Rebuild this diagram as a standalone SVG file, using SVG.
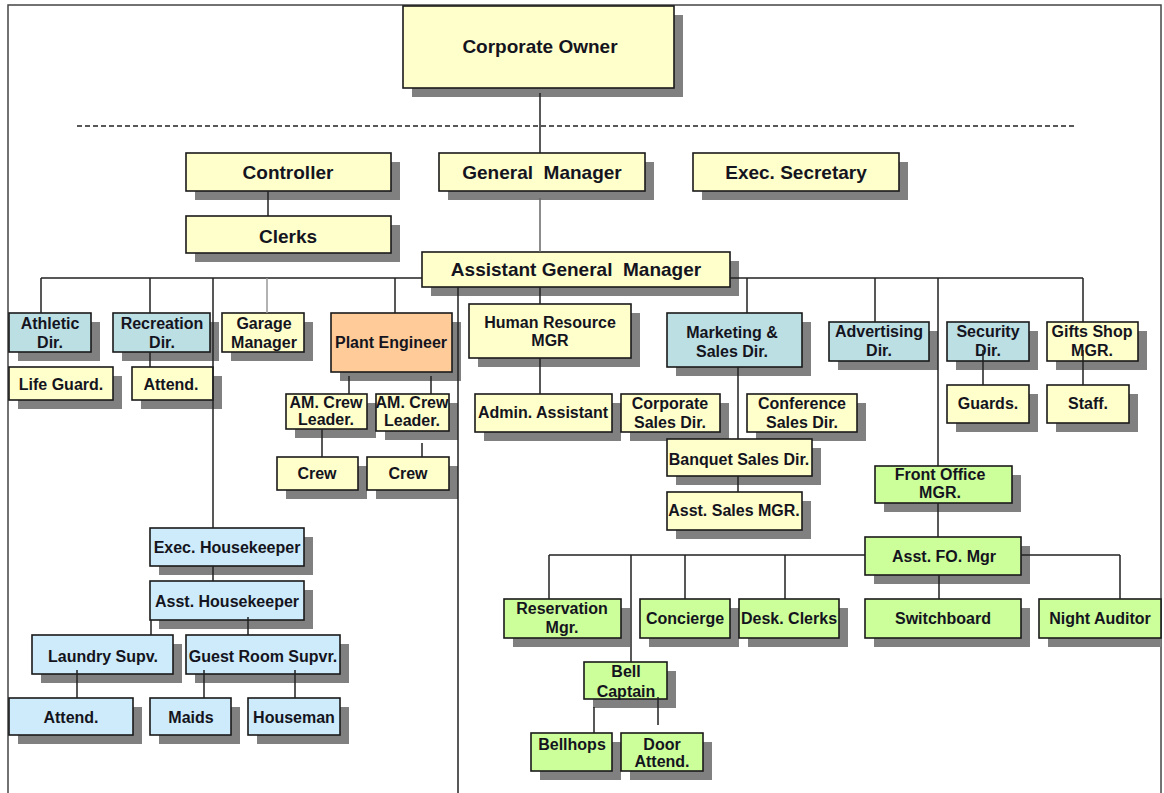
<svg xmlns="http://www.w3.org/2000/svg" width="1164" height="793" viewBox="0 0 1164 793">
<style>
.sh{fill:#808080}
.b{stroke:#1a1a1a;stroke-width:1.6}
.y{fill:#FFFFCC}
.c{fill:#BCDFE4}
.l{fill:#CDEBFA}
.o{fill:#FFCC99}
.g{fill:#CCFF99}
text{font-family:"Liberation Sans",Arial,sans-serif;font-weight:bold;fill:#141420;text-anchor:middle}
.t1{font-size:19px}
.t2{font-size:16px}
.cn path{stroke:#222;stroke-width:1.5;fill:none}
</style>
<rect x="8" y="5" width="1153" height="800" fill="#fff" stroke="#444" stroke-width="1.5"/>

<g id="corporate-owner"><rect class="sh" x="412" y="15" width="271" height="82"/><rect class="b y" x="403" y="6" width="271" height="82"/><text class="t1" x="540" y="53">Corporate Owner</text></g>
<g id="controller"><rect class="sh" x="195" y="162" width="205" height="38"/><rect class="b y" x="186" y="153" width="205" height="38"/><text class="t1" x="288" y="179">Controller</text></g>
<g id="general-manager"><rect class="sh" x="448" y="162" width="206" height="38"/><rect class="b y" x="439" y="153" width="206" height="38"/><text class="t1" x="542" y="179" xml:space="preserve">General  Manager</text></g>
<g id="exec-secretary"><rect class="sh" x="702" y="162" width="206" height="38"/><rect class="b y" x="693" y="153" width="206" height="38"/><text class="t1" x="796" y="179">Exec. Secretary</text></g>
<g id="clerks"><rect class="sh" x="195" y="225" width="205" height="37"/><rect class="b y" x="186" y="216" width="205" height="37"/><text class="t1" x="288" y="243">Clerks</text></g>
<g id="assistant-general-manager"><rect class="sh" x="431" y="261" width="308" height="35"/><rect class="b y" x="422" y="252" width="308" height="35"/><text class="t1" x="576" y="276" xml:space="preserve">Assistant General  Manager</text></g>

<g id="athletic-dir"><rect class="sh" x="18" y="322" width="82" height="39"/><rect class="b c" x="9" y="313" width="82" height="39"/><text class="t2" x="50" y="329">Athletic</text><text class="t2" x="50" y="348">Dir.</text></g>
<g id="recreation-dir"><rect class="sh" x="122" y="322" width="97" height="39"/><rect class="b c" x="113" y="313" width="97" height="39"/><text class="t2" x="162" y="329">Recreation</text><text class="t2" x="162" y="348">Dir.</text></g>
<g id="life-guard"><rect class="sh" x="18" y="376" width="104" height="33"/><rect class="b y" x="9" y="367" width="104" height="33"/><text class="t2" x="61" y="390">Life Guard.</text></g>
<g id="rec-attend"><rect class="sh" x="141" y="376" width="81" height="33"/><rect class="b y" x="132" y="367" width="81" height="33"/><text class="t2" x="171" y="390">Attend.</text></g>
<g id="garage-manager"><rect class="sh" x="231" y="322" width="82" height="39"/><rect class="b y" x="222" y="313" width="82" height="39"/><text class="t2" x="264" y="329">Garage</text><text class="t2" x="264" y="348">Manager</text></g>
<g id="plant-engineer"><rect class="sh" x="340" y="322" width="121" height="59"/><rect class="b o" x="331" y="313" width="121" height="59"/><text class="t2" x="391" y="348">Plant Engineer</text></g>
<g id="crew-leader-1"><rect class="sh" x="295" y="403" width="81" height="35"/><rect class="b y" x="286" y="394" width="81" height="35"/><text class="t2" x="326" y="408">AM. Crew</text><text class="t2" x="326" y="425">Leader.</text></g>
<g id="crew-leader-2"><rect class="sh" x="385" y="403" width="73" height="37"/><rect class="b y" x="376" y="394" width="73" height="37"/><text class="t2" x="412" y="408">AM. Crew</text><text class="t2" x="412" y="426">Leader.</text></g>
<g id="crew-1"><rect class="sh" x="286" y="466" width="81" height="33"/><rect class="b y" x="277" y="457" width="81" height="33"/><text class="t2" x="317" y="479">Crew</text></g>
<g id="crew-2"><rect class="sh" x="376" y="466" width="82" height="33"/><rect class="b y" x="367" y="457" width="82" height="33"/><text class="t2" x="408" y="479">Crew</text></g>

<g id="human-resource-mgr"><rect class="sh" x="478" y="313" width="162" height="54"/><rect class="b y" x="469" y="304" width="162" height="54"/><text class="t2" x="550" y="328">Human Resource</text><text class="t2" x="550" y="346">MGR</text></g>
<g id="admin-assistant"><rect class="sh" x="484" y="403" width="137" height="38"/><rect class="b y" x="475" y="394" width="137" height="38"/><text class="t2" x="543" y="418">Admin. Assistant</text></g>
<g id="corporate-sales-dir"><rect class="sh" x="630" y="403" width="99" height="38"/><rect class="b y" x="621" y="394" width="99" height="38"/><text class="t2" x="670" y="409">Corporate</text><text class="t2" x="670" y="428">Sales Dir.</text></g>
<g id="marketing-sales-dir"><rect class="sh" x="676" y="322" width="135" height="54"/><rect class="b c" x="667" y="313" width="135" height="54"/><text class="t2" x="732" y="338">Marketing &amp;</text><text class="t2" x="732" y="357">Sales Dir.</text></g>
<g id="conference-sales-dir"><rect class="sh" x="756" y="403" width="110" height="38"/><rect class="b y" x="747" y="394" width="110" height="38"/><text class="t2" x="802" y="409">Conference</text><text class="t2" x="802" y="428">Sales Dir.</text></g>
<g id="banquet-sales-dir"><rect class="sh" x="676" y="448" width="145" height="37"/><rect class="b y" x="667" y="439" width="145" height="37"/><text class="t2" x="739" y="465">Banquet Sales Dir.</text></g>
<g id="asst-sales-mgr"><rect class="sh" x="676" y="501" width="135" height="38"/><rect class="b y" x="667" y="492" width="135" height="38"/><text class="t2" x="734" y="516">Asst. Sales MGR.</text></g>

<g id="advertising-dir"><rect class="sh" x="838" y="331" width="100" height="39"/><rect class="b c" x="829" y="322" width="100" height="39"/><text class="t2" x="879" y="337">Advertising</text><text class="t2" x="879" y="356">Dir.</text></g>
<g id="security-dir"><rect class="sh" x="956" y="331" width="82" height="39"/><rect class="b c" x="947" y="322" width="82" height="39"/><text class="t2" x="988" y="337">Security</text><text class="t2" x="988" y="356">Dir.</text></g>
<g id="guards"><rect class="sh" x="956" y="394" width="82" height="38"/><rect class="b y" x="947" y="385" width="82" height="38"/><text class="t2" x="988" y="409">Guards.</text></g>
<g id="gifts-shop-mgr"><rect class="sh" x="1056" y="331" width="91" height="39"/><rect class="b y" x="1047" y="322" width="91" height="39"/><text class="t2" x="1092" y="337">Gifts Shop</text><text class="t2" x="1092" y="356">MGR.</text></g>
<g id="staff"><rect class="sh" x="1056" y="394" width="82" height="38"/><rect class="b y" x="1047" y="385" width="82" height="38"/><text class="t2" x="1088" y="409">Staff.</text></g>

<g id="front-office-mgr"><rect class="sh" x="884" y="475" width="137" height="37"/><rect class="b g" x="875" y="466" width="137" height="37"/><text class="t2" x="940" y="480">Front Office</text><text class="t2" x="940" y="498">MGR.</text></g>
<g id="asst-fo-mgr"><rect class="sh" x="874" y="546" width="156" height="38"/><rect class="b g" x="865" y="537" width="156" height="38"/><text class="t2" x="944" y="562">Asst. FO. Mgr</text></g>
<g id="reservation-mgr"><rect class="sh" x="513" y="608" width="117" height="39"/><rect class="b g" x="504" y="599" width="117" height="39"/><text class="t2" x="562" y="614">Reservation</text><text class="t2" x="562" y="633">Mgr.</text></g>
<g id="concierge"><rect class="sh" x="649" y="608" width="90" height="39"/><rect class="b g" x="640" y="599" width="90" height="39"/><text class="t2" x="685" y="624">Concierge</text></g>
<g id="desk-clerks"><rect class="sh" x="748" y="608" width="100" height="39"/><rect class="b g" x="739" y="599" width="100" height="39"/><text class="t2" x="789" y="624">Desk. Clerks</text></g>
<g id="switchboard"><rect class="sh" x="874" y="608" width="156" height="39"/><rect class="b g" x="865" y="599" width="156" height="39"/><text class="t2" x="943" y="624">Switchboard</text></g>
<g id="night-auditor"><rect class="sh" x="1048" y="608" width="113" height="39"/><rect class="b g" x="1039" y="599" width="122" height="39"/><text class="t2" x="1100" y="624">Night Auditor</text></g>
<g id="bell-captain"><rect class="sh" x="593" y="671" width="83" height="37"/><rect class="b g" x="584" y="662" width="83" height="37"/><text class="t2" x="626" y="677">Bell</text><text class="t2" x="626" y="697">Captain</text></g>
<g id="bellhops"><rect class="sh" x="540" y="742" width="81" height="38"/><rect class="b g" x="531" y="733" width="81" height="38"/><text class="t2" x="572" y="750">Bellhops</text></g>
<g id="door-attend"><rect class="sh" x="630" y="742" width="82" height="38"/><rect class="b g" x="621" y="733" width="82" height="38"/><text class="t2" x="662" y="750">Door</text><text class="t2" x="662" y="767">Attend.</text></g>

<g id="exec-housekeeper"><rect class="sh" x="159" y="537" width="154" height="38"/><rect class="b l" x="150" y="528" width="154" height="38"/><text class="t2" x="227" y="553">Exec. Housekeeper</text></g>
<g id="asst-housekeeper"><rect class="sh" x="159" y="590" width="154" height="39"/><rect class="b l" x="150" y="581" width="154" height="39"/><text class="t2" x="227" y="607">Asst. Housekeeper</text></g>
<g id="laundry-supv"><rect class="sh" x="41" y="644" width="141" height="39"/><rect class="b l" x="32" y="635" width="141" height="39"/><text class="t2" x="103" y="662">Laundry Supv.</text></g>
<g id="guest-room-supvr"><rect class="sh" x="195" y="644" width="154" height="39"/><rect class="b l" x="186" y="635" width="154" height="39"/><text class="t2" x="263" y="662">Guest Room Supvr.</text></g>
<g id="laundry-attend"><rect class="sh" x="18" y="707" width="124" height="37"/><rect class="b l" x="9" y="698" width="124" height="37"/><text class="t2" x="71" y="723">Attend.</text></g>
<g id="maids"><rect class="sh" x="159" y="707" width="81" height="37"/><rect class="b l" x="150" y="698" width="81" height="37"/><text class="t2" x="191" y="723">Maids</text></g>
<g id="houseman"><rect class="sh" x="257" y="707" width="92" height="37"/><rect class="b l" x="248" y="698" width="92" height="37"/><text class="t2" x="294" y="723">Houseman</text></g>

<g id="connectors" class="cn">
<path d="M540 93V153"/>
<path d="M77 126H1074" stroke-dasharray="5 3"/>
<path d="M268 191V216"/>
<path d="M540 198V252" style="stroke:#666"/>
<path d="M41 278H422M730 278H1083"/>
<path d="M41 278V313M150 278V313M395 278V313M213 278V528"/>
<path d="M267 278V313" style="stroke:#999"/>
<path d="M458 287V793M540 287V304"/>
<path d="M747 278V313M875 278V322M938 278V466M1083 278V322"/>
<path d="M150 352V367"/>
<path d="M349 376V394M431 376V394M322 429V457M422 443V457"/>
<path d="M540 358V394M738 367V439M738 476V492"/>
<path d="M983 350V385M1083 350V385"/>
<path d="M938 503V537M549 555H865M1021 555H1120"/>
<path d="M549 555V599M631 555V662M685 555V599M785 555V599M1120 555V599M939 575V599"/>
<path d="M594 707V733M658 697V725"/>
<path d="M213 566V581M151 620V635M248 617V635M77 670V698M204 670V698M295 670V698"/>
</g>
</svg>
